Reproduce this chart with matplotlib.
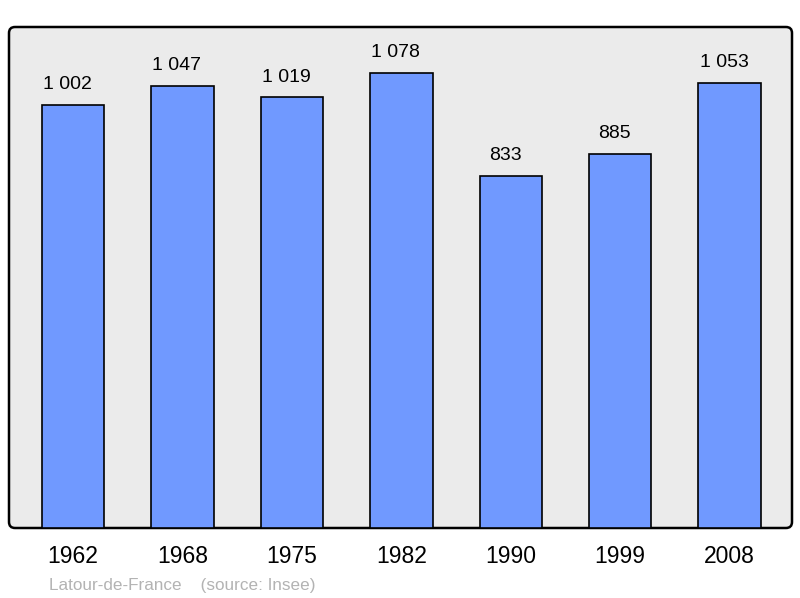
import matplotlib
matplotlib.use("Agg")
import matplotlib.pyplot as plt
from matplotlib.patches import FancyBboxPatch

# Data
years = ["1962", "1968", "1975", "1982", "1990", "1999", "2008"]
population = [1002, 1047, 1019, 1078, 833, 885, 1053]
value_labels = ["1 002", "1 047", "1 019", "1 078", "833", "885", "1 053"]
footer = "Latour-de-France    (source: Insee)"

plt.rcParams['font.family'] = ['Liberation Sans', 'DejaVu Sans']

fig = plt.figure(figsize=(8, 5.98), dpi=100)
ax = fig.add_axes([9 / 800, 70 / 598, 783 / 800, 501 / 598])

# Rounded grey plot area
ax.patch.set_visible(False)
for s in ax.spines.values():
    s.set_visible(False)
frame = FancyBboxPatch((0, 0), 1, 1, boxstyle="round,pad=0,rounding_size=0.0077",
                       mutation_aspect=783 / 501, transform=ax.transAxes,
                       facecolor="#ebebeb", edgecolor="black", linewidth=1.8,
                       zorder=0, clip_on=False)
ax.add_patch(frame)

x = list(range(len(years)))
bars = ax.bar(x, population, width=0.57, color="#7099ff", edgecolor="black",
              linewidth=1.2, zorder=2)

# value labels sit slightly left of the bar centre in the original
for xi, v, lab in zip(x, population, value_labels):
    ax.annotate(lab, (xi, v), xytext=(-4, 8.5), textcoords="offset points",
                ha="center", va="bottom", fontsize=14, color="black")

ax.set_xlim(-0.585, 6.57)
ax.set_ylim(0, max(population) * 1.1)
ax.set_xticks(x)
ax.set_xticklabels(years, fontsize=16.5)
ax.tick_params(axis="x", length=0, pad=12.5)
ax.set_yticks([])

fig.text(49 / 800, 5 / 598, footer, fontsize=12.3, color="#b3b3b3",
         ha="left", va="bottom")

fig.savefig("out.png", dpi=100)
